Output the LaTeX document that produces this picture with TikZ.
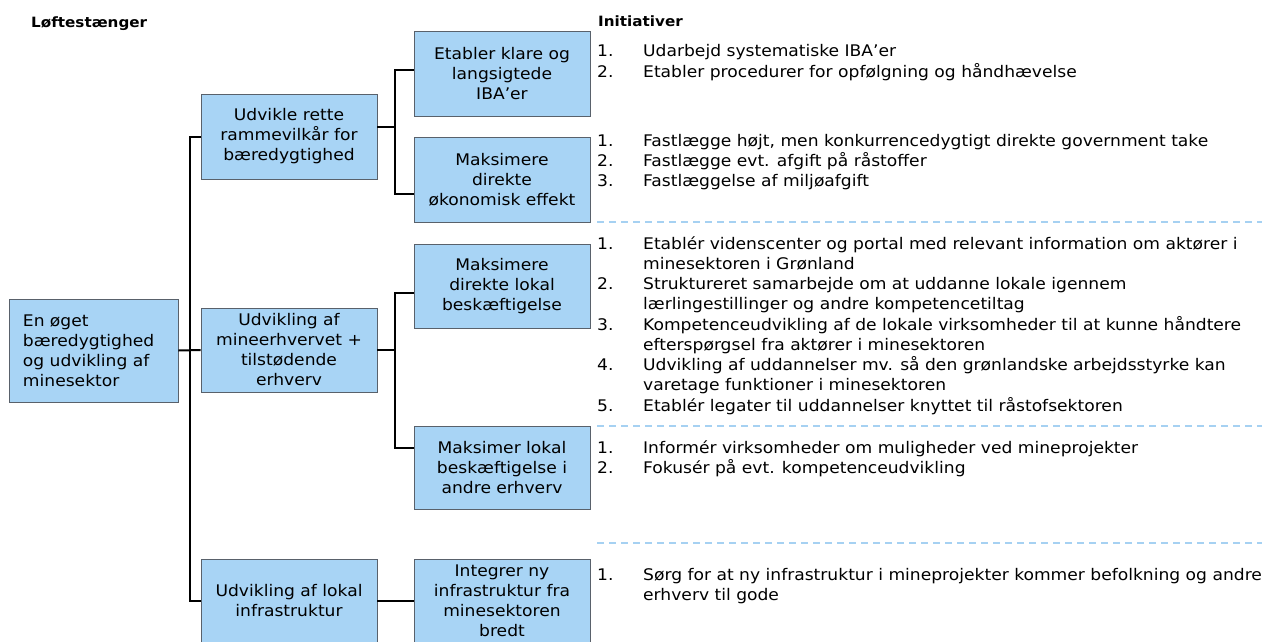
\documentclass[tikz,border=0pt]{standalone}
\usepackage{fontspec}
\setmainfont{DejaVu Sans}[FakeStretch=1.07]
\usetikzlibrary{positioning}
\definecolor{mfill}{rgb}{0.66, 0.83, 0.96}
\definecolor{mframe}{rgb}{0.35, 0.38, 0.42}
\definecolor{mdash}{rgb}{0.65, 0.82, 0.95}
\tikzset{box/.style = {draw = mframe, fill = mfill, line width = 0.9, minimum width = 176, minimum height = 85, inner sep = 2, align = center, font = \fontsize{16}{20}\selectfont}}
\tikzset{conn/.style = {black, line width = 2}}
\tikzset{sep/.style = {mdash, line width = 1.8, dash pattern = on 7pt off 5pt}}
\tikzset{hd/.style = {anchor = base west, inner sep = 0, font = \fontsize{14.2}{16}\selectfont\bfseries}}
\tikzset{lst/.style = {anchor = base west, inner sep = 0, font = \fontsize{16}{20.25}\selectfont}}

\begin{document}
\begin{tikzpicture}[x = 1pt, y = -1pt]
      \useasboundingbox (0, 0) rectangle (1266, 642);
      \node [hd] (hdlof) at (31, 28) {Løftestænger};
      \node [hd] (hdini) at (598, 27) {Initiativer};

      \node [box, minimum width = 169, minimum height = 103, text width = 141, align = left, inner xsep = 14] (root) at (93.5, 350.5) {En øget\\bæredygtighed\\og udvikling af\\minesektor};
      \node [box] (u1) at (289, 136.5) {Udvikle rette\\rammevilkår for\\bæredygtighed};
      \node [box, minimum height = 84] (u2) at (289, 350) {Udvikling af\\mineerhvervet +\\tilstødende\\erhverv};
      \node [box, minimum height = 84] (u3) at (289, 601) {Udvikling af lokal\\infrastruktur};

      \node [box] (e1) at (502, 73.5) {Etabler klare og\\langsigtede\\IBA’er};
      \node [box] (e2) at (502, 179.5) {Maksimere\\direkte\\økonomisk effekt};
      \node [box, minimum height = 84] (e3) at (502, 286) {Maksimere\\direkte lokal\\beskæftigelse};
      \node [box, minimum height = 83] (e4) at (502, 467.5) {Maksimer lokal\\beskæftigelse i\\andre erhverv};
      \node [box, minimum height = 84] (e5) at (502, 601) {Integrer ny\\infrastruktur fra\\minesektoren\\bredt};

      % tree
      \draw [conn] (root.east) -- (u2.west);
      \draw [conn] (u1.west) -- ++(-11, 0) |- (u3.west);
      \draw [conn] ([yshift = 10pt]u1.east) -- ++(18, 0) coordinate (k1);
      \draw [conn] ([yshift = 3.5pt]e1.west) -| (k1) |- ([yshift = -14.5pt]e2.west);
      \draw [conn] (u2.east) -- ++(18, 0) coordinate (k2);
      \draw [conn] ([yshift = -7pt]e3.west) -| (k2) |- ([yshift = 19.5pt]e4.west);
      \draw [conn] (u3.east) -- (e5.west);

      \foreach \y in {222, 426, 543} {
        \draw [sep] (597, \y) -- (1262, \y);
      }

      % initiativer
      \node [lst] (ini1) at (597, 57) {\begin{tabular}[t]{@{}p{46pt}@{}l@{}}
        1. & Udarbejd systematiske IBA’er\\
        2. & Etabler procedurer for opfølgning og håndhævelse
      \end{tabular}};
      \node [lst] (ini2) at (597, 146) {\begin{tabular}[t]{@{}p{46pt}@{}l@{}}
        1. & Fastlægge højt, men konkurrencedygtigt direkte government take\\
        2. & Fastlægge evt. afgift på råstoffer\\
        3. & Fastlæggelse af miljøafgift
      \end{tabular}};
      \node [lst] (ini3) at (597, 249) {\begin{tabular}[t]{@{}p{46pt}@{}l@{}}
        1. & Etablér videnscenter og portal med relevant information om aktører i\\
           & minesektoren i Grønland\\
        2. & Struktureret samarbejde om at uddanne lokale igennem\\
           & lærlingestillinger og andre kompetencetiltag\\
        3. & Kompetenceudvikling af de lokale virksomheder til at kunne håndtere\\
           & efterspørgsel fra aktører i minesektoren\\
        4. & Udvikling af uddannelser mv. så den grønlandske arbejdsstyrke kan\\
           & varetage funktioner i minesektoren\\
        5. & Etablér legater til uddannelser knyttet til råstofsektoren
      \end{tabular}};
      \node [lst] (ini4) at (597, 453) {\begin{tabular}[t]{@{}p{46pt}@{}l@{}}
        1. & Informér virksomheder om muligheder ved mineprojekter\\
        2. & Fokusér på evt. kompetenceudvikling
      \end{tabular}};
      \node [lst] (ini5) at (597, 580) {\begin{tabular}[t]{@{}p{46pt}@{}l@{}}
        1. & Sørg for at ny infrastruktur i mineprojekter kommer befolkning og andre\\
           & erhverv til gode
      \end{tabular}};
    \end{tikzpicture}
\end{document}
